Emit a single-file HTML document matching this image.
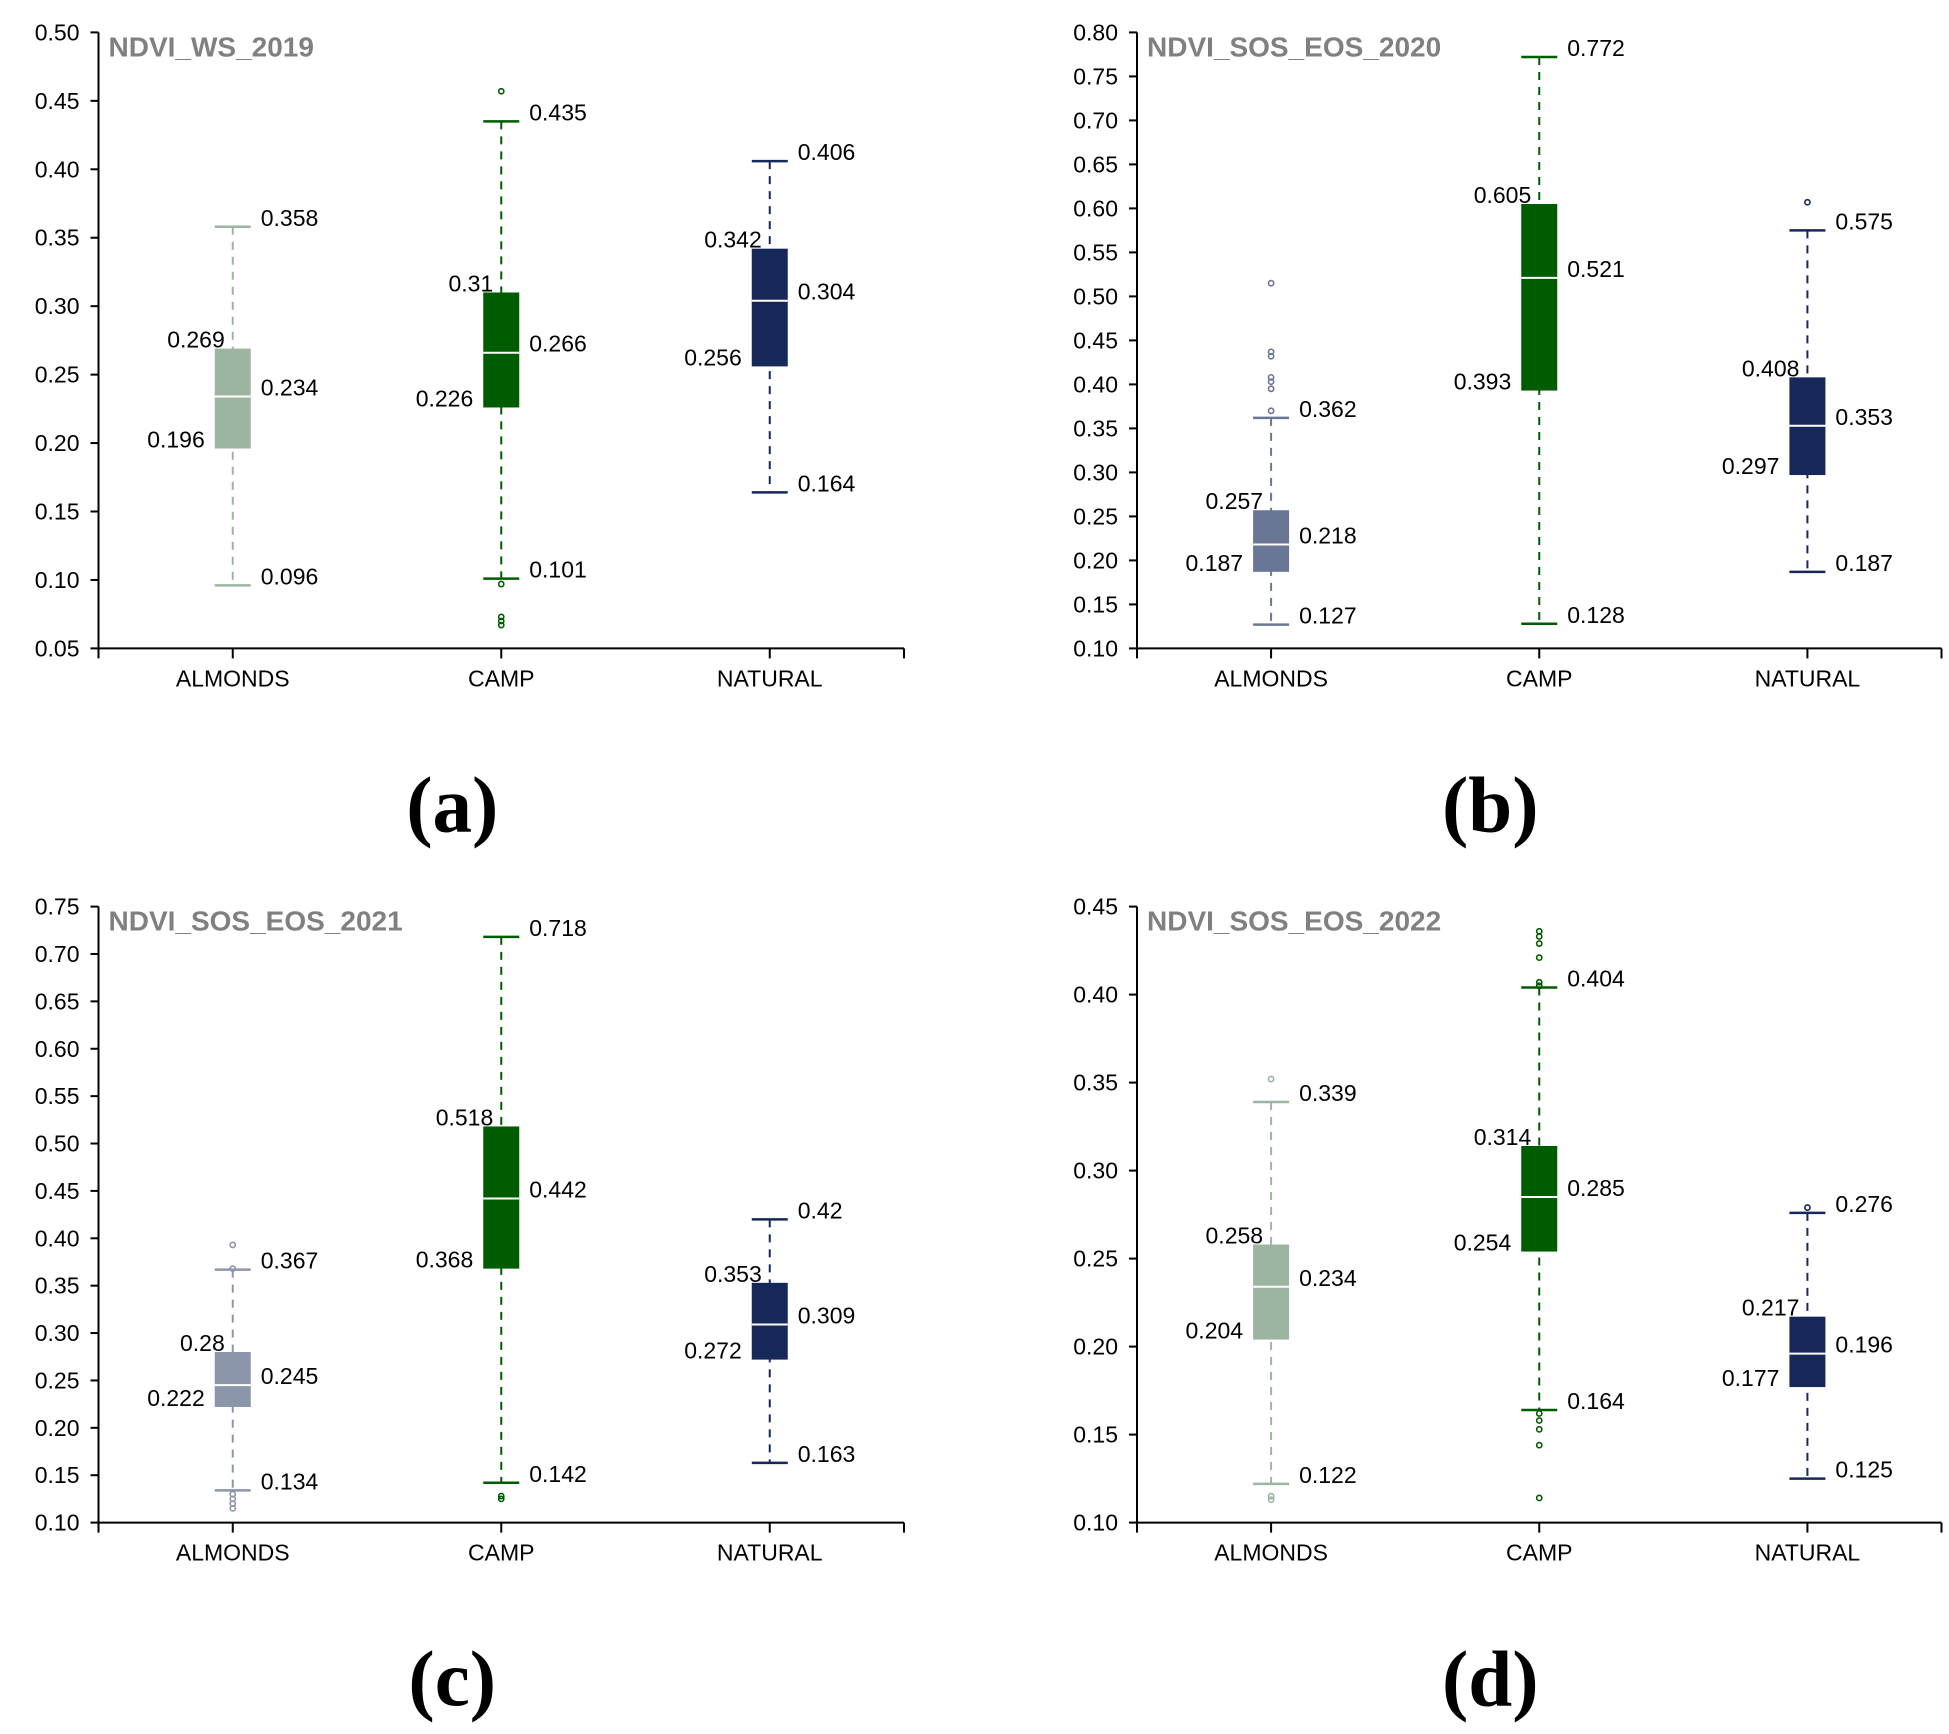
<!DOCTYPE html>
<html><head><meta charset="utf-8"><style>
html,body{margin:0;padding:0;background:#fff}
svg{display:block;font-family:"Liberation Sans",sans-serif}
</style></head><body>
<svg id="chart" width="1949" height="1734" viewBox="0 0 1949 1734" xmlns="http://www.w3.org/2000/svg"></svg>
<script>
const categories = ["ALMONDS","CAMP","NATURAL"];
const panelTitles = ["NDVI_WS_2019","NDVI_SOS_EOS_2020","NDVI_SOS_EOS_2021","NDVI_SOS_EOS_2022"];
const panelLetters = ["(a)","(b)","(c)","(d)"];
const yMin = [0.05,0.10,0.10,0.10];
const yMax = [0.50,0.80,0.75,0.45];
// [lowWhisker, q1, median, q3, highWhisker]
const statsA = [[0.096,0.196,0.234,0.269,0.358],[0.101,0.226,0.266,0.31,0.435],[0.164,0.256,0.304,0.342,0.406]];
const statsB = [[0.127,0.187,0.218,0.257,0.362],[0.128,0.393,0.521,0.605,0.772],[0.187,0.297,0.353,0.408,0.575]];
const statsC = [[0.134,0.222,0.245,0.28,0.367],[0.142,0.368,0.442,0.518,0.718],[0.163,0.272,0.309,0.353,0.42]];
const statsD = [[0.122,0.204,0.234,0.258,0.339],[0.164,0.254,0.285,0.314,0.404],[0.125,0.177,0.196,0.217,0.276]];
const labelsA = [["0.096","0.196","0.234","0.269","0.358"],["0.101","0.226","0.266","0.31","0.435"],["0.164","0.256","0.304","0.342","0.406"]];
const labelsB = [["0.127","0.187","0.218","0.257","0.362"],["0.128","0.393","0.521","0.605","0.772"],["0.187","0.297","0.353","0.408","0.575"]];
const labelsC = [["0.134","0.222","0.245","0.28","0.367"],["0.142","0.368","0.442","0.518","0.718"],["0.163","0.272","0.309","0.353","0.42"]];
const labelsD = [["0.122","0.204","0.234","0.258","0.339"],["0.164","0.254","0.285","0.314","0.404"],["0.125","0.177","0.196","0.217","0.276"]];
const outliersA = [[],[0.457,0.097,0.073,0.070,0.067],[]];
const outliersB = [[0.515,0.437,0.432,0.408,0.403,0.395,0.37],[],[0.607]];
const outliersC = [[0.393,0.368,0.13,0.125,0.12,0.115],[0.128,0.125],[]];
const outliersD = [[0.352,0.115,0.113],[0.436,0.433,0.429,0.421,0.407,0.405,0.162,0.158,0.153,0.144,0.114],[0.279]];
const colorsA = ["#9cb5a0","#005c00","#16285a"];
const colorsB = ["#6a7696","#005c00","#16285a"];
const colorsC = ["#8c96aa","#005c00","#16285a"];
const colorsD = ["#9cb5a0","#005c00","#16285a"];

const allStats=[statsA,statsB,statsC,statsD], allLabels=[labelsA,labelsB,labelsC,labelsD],
      allOut=[outliersA,outliersB,outliersC,outliersD], allColors=[colorsA,colorsB,colorsC,colorsD];
const svg=document.getElementById('chart'); const NS="http://www.w3.org/2000/svg";
function mk(tag,attrs,parent,txt){const e=document.createElementNS(NS,tag);for(const k in attrs)e.setAttribute(k,attrs[k]);if(txt!==undefined)e.textContent=txt;parent.appendChild(e);return e;}
const frames=[{x0:98.5,x1:904,top:32.4,bot:648.4},{x0:1137,x1:1941.5,top:32.4,bot:648.4},{x0:98.5,x1:904,top:906.6,bot:1522.6},{x0:1137,x1:1941.5,top:906.6,bot:1522.6}];
frames.forEach((f,p)=>{
  const g=mk('g',{},svg);
  
  
  const y=v=>f.bot-(v-yMin[p])/(yMax[p]-yMin[p])*(f.bot-f.top);
  const w=f.x1-f.x0; const xc=i=>f.x0+w*(i*2+1)/6;
  const ax=mk('g',{},g);  
  mk('line',{x1:f.x0,y1:f.top,x2:f.x0,y2:f.bot+10,stroke:'#000','stroke-width':2},ax);
  const n=Math.round((yMax[p]-yMin[p])/0.05);
  for(let k=0;k<=n;k++){const v=yMin[p]+k*0.05;const yy=y(v);
    mk('line',{x1:f.x0-8,y1:yy,x2:f.x0,y2:yy,stroke:'#000','stroke-width':2},ax);
    const t=mk('text',{x:f.x0-19,y:yy+8,'text-anchor':'end','font-size':23},ax,v.toFixed(2));
     }
  const xa=mk('g',{},g);  
  mk('line',{x1:f.x0,y1:f.bot,x2:f.x1,y2:f.bot,stroke:'#000','stroke-width':2},xa);
  mk('line',{x1:f.x1,y1:f.bot,x2:f.x1,y2:f.bot+10,stroke:'#000','stroke-width':2},xa);
  categories.forEach((c,i)=>{mk('line',{x1:xc(i),y1:f.bot,x2:xc(i),y2:f.bot+10,stroke:'#000','stroke-width':2},xa);
    const t=mk('text',{x:xc(i),y:f.bot+38,'text-anchor':'middle','font-size':23},xa,c);
     });
  const tt=mk('text',{x:f.x0+10,y:f.top+24,'font-size':28,'font-weight':'bold',fill:'#808080'},g,panelTitles[p]);
   
  const lt=mk('text',{x:(f.x0+f.x1)/2-49,y:f.bot+183,'text-anchor':'middle','font-size':79,'font-weight':'bold','font-family':'"Liberation Serif",serif'},g,panelLetters[p]);
   
  allStats[p].forEach((s,i)=>{
    const col=allColors[p][i], cx=xc(i), bw=36;
    const bg=mk('g',{},g);  
    mk('line',{x1:cx,y1:y(s[4]),x2:cx,y2:y(s[0]),stroke:col,'stroke-width':2,'stroke-dasharray':'8,7'},bg);
    mk('line',{x1:cx-bw/2,y1:y(s[4]),x2:cx+bw/2,y2:y(s[4]),stroke:col,'stroke-width':2.5},bg);
    mk('line',{x1:cx-bw/2,y1:y(s[0]),x2:cx+bw/2,y2:y(s[0]),stroke:col,'stroke-width':2.5},bg);
    mk('rect',{x:cx-bw/2,y:y(s[3]),width:bw,height:y(s[1])-y(s[3]),fill:col},bg);
    mk('line',{x1:cx-bw/2,y1:y(s[2]),x2:cx+bw/2,y2:y(s[2]),stroke:'#fff','stroke-width':2},bg);
    allOut[p][i].forEach(o=>{const c=mk('circle',{cx:cx,cy:y(o),r:2.6,fill:'none',stroke:col,'stroke-width':1.6},bg);
       });
    const L=allLabels[p][i];
    [[4,cx+28,'start'],[2,cx+28,'start'],[0,cx+28,'start'],[3,cx-8,'end'],[1,cx-28,'end']].forEach(([k,xx,anc])=>{
      const t=mk('text',{x:xx,y:y(s[k])-1,'text-anchor':anc,'font-size':23},bg,L[k]);
       });
  });
});
</script>
</body></html>
